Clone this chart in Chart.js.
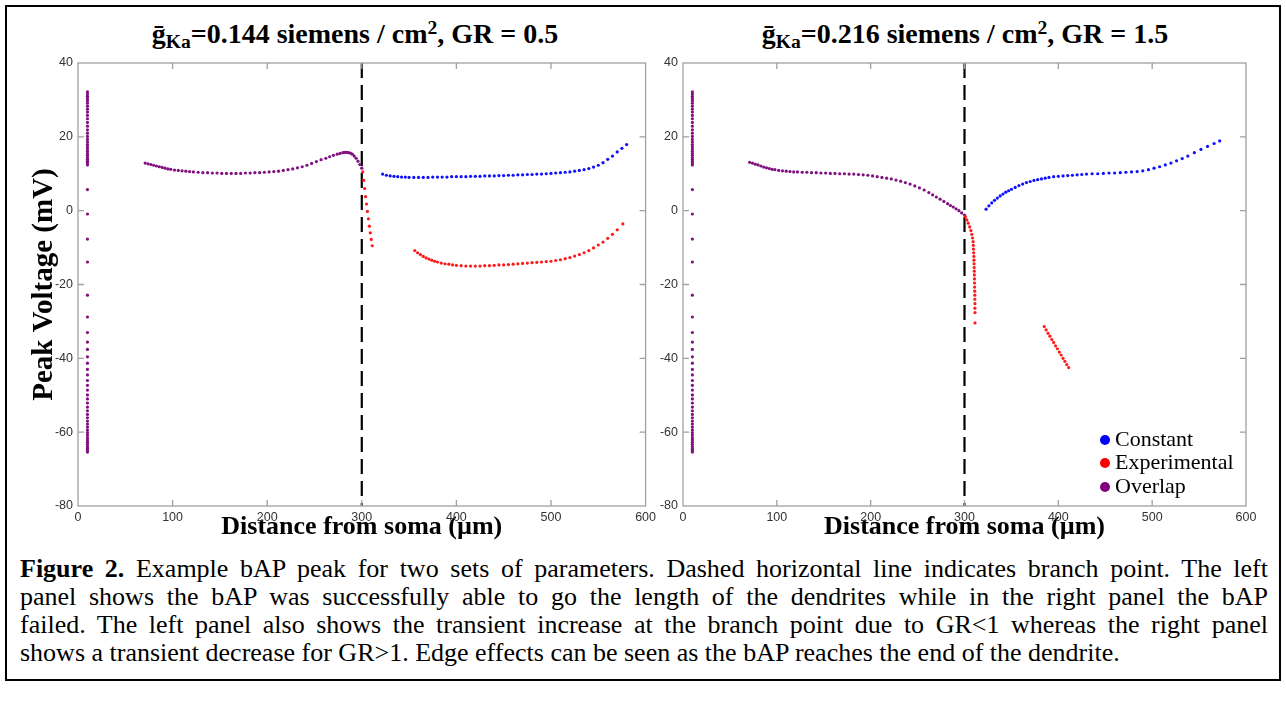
<!DOCTYPE html>
<html><head><meta charset="utf-8">
<script src="https://cdn.jsdelivr.net/npm/chart.js@4.4.1/dist/chart.umd.min.js"></script>
<style>
html,body{margin:0;padding:0;background:#fff;width:1286px;height:707px;overflow:hidden;}
#frame{position:absolute;left:5px;top:5px;width:1272px;height:672px;border:2px solid #000;box-sizing:content-box;}
.ttl{position:absolute;top:18px;font-weight:bold;font-size:28px;line-height:32px;font-family:"Liberation Serif","DejaVu Serif",serif;white-space:nowrap;transform:translateX(-50%);color:#000;}
.ttl sub{font-size:0.7em;vertical-align:-0.25em;line-height:0;}
.ttl sup{font-size:0.7em;vertical-align:0.45em;line-height:0;}
canvas{position:absolute;}
.leg{position:absolute;left:1100px;font-family:"Liberation Serif",serif;font-size:22px;line-height:24px;white-space:nowrap;color:#000;}
.leg i{display:inline-block;width:10px;height:10px;border-radius:50%;margin-right:5px;vertical-align:1px;}
.cap{position:absolute;left:20px;width:1248px;font-family:"Liberation Serif",serif;font-size:26px;line-height:28px;white-space:nowrap;color:#000;}
.cap.j{text-align:justify;text-align-last:justify;white-space:normal;}
</style>
</head><body>
<div id="frame"></div>
<div class="ttl" style="left:355px">ḡ<sub>Ka</sub>=0.144 siemens / cm<sup>2</sup>, GR = 0.5</div>
<div class="ttl" style="left:965px">ḡ<sub>Ka</sub>=0.216 siemens / cm<sup>2</sup>, GR = 1.5</div>
<canvas id="cL" width="660" height="500" style="left:0;top:50px;width:660px;height:500px"></canvas>
<canvas id="cR" width="626" height="500" style="left:660px;top:50px;width:626px;height:500px"></canvas>
<div class="leg" style="top:427px"><i style="background:#0000ff"></i>Constant</div>
<div class="leg" style="top:450px"><i style="background:#ff0000"></i>Experimental</div>
<div class="leg" style="top:474px"><i style="background:#800080"></i>Overlap</div>
<div class="cap j" style="top:555px"><b>Figure 2.</b> Example bAP peak for two sets of parameters. Dashed horizontal line indicates branch point. The left</div>
<div class="cap j" style="top:583px">panel shows the bAP was successfully able to go the length of the dendrites while in the right panel the bAP</div>
<div class="cap j" style="top:611px">failed. The left panel also shows the transient increase at the branch point due to GR&lt;1 whereas the right panel</div>
<div class="cap" style="top:639px">shows a transient decrease for GR&gt;1. Edge effects can be seen as the bAP reaches the end of the dendrite.</div>
<script>
// ---- axis tick labels ----
const xTickLabels = [0, 100, 200, 300, 400, 500, 600];
const yTickLabels = [-80, -60, -40, -20, 0, 20, 40];
const branchPoint = 300;
const somaDistance = 10;

// ---- soma column (both panels) ----
const somaV = [32.2, 31.6, 31.0, 30.4, 29.8, 29.1, 28.3, 27.5, 26.7, 25.8, 24.9, 23.9, 22.9, 21.9, 21.0, 20.1, 19.3, 18.6, 17.9, 17.3, 16.7, 16.1, 15.5, 15.0, 14.4, 13.9, 13.4, 12.9, 12.4,
  5.7, -0.9, -7.7, -13.9, -22.9, -28.8, -33.0, -35.6, -37.6, -39.6, -41.3, -43.0, -44.5, -46.0, -47.3, -48.6, -49.9, -51.0, -52.1, -53.2, -54.2, -55.2, -56.1, -57.0, -57.8, -58.6, -59.4, -60.1, -60.8, -61.5, -62.1, -62.7, -63.3, -63.9, -64.4, -64.9, -65.4];

// ---- LEFT panel (gKa=0.144, GR=0.5) ----
const L_overlapX = [71,74,77,80,83,86,89,92,95,98,102,106,110,114,118,122,127,132,137,142,147,152,157,162,167,172,177,182,187,192,197,202,207,212,217,222,227,232,237,242,247,252,257,262,266,270,274,277,280,282,284,286,288,290,292,294,296,298,300];
const L_overlapY = [12.9,12.7,12.5,12.3,12.1,11.9,11.7,11.5,11.3,11.2,11.0,10.9,10.8,10.7,10.6,10.5,10.4,10.3,10.3,10.2,10.2,10.1,10.1,10.1,10.1,10.1,10.2,10.2,10.3,10.3,10.4,10.5,10.6,10.7,10.9,11.1,11.3,11.6,11.9,12.3,12.8,13.3,13.8,14.2,14.6,15.0,15.3,15.5,15.7,15.8,15.8,15.7,15.6,15.3,14.8,14.2,13.4,12.5,11.5];
const L_constX = [322,326,330,334,338,342,346,350,355,360,365,370,375,380,385,390,395,400,405,410,415,420,425,430,435,440,445,450,455,460,465,470,475,480,485,490,495,500,505,510,515,520,525,530,535,540,545,550,555,560,565,570,575,580];
const L_constY = [9.9,9.6,9.4,9.3,9.2,9.1,9.1,9.0,9.0,9.0,9.0,9.0,9.1,9.1,9.1,9.1,9.2,9.2,9.2,9.2,9.3,9.3,9.3,9.4,9.4,9.4,9.5,9.5,9.6,9.6,9.7,9.7,9.8,9.8,9.9,9.9,10.0,10.1,10.2,10.3,10.4,10.5,10.7,10.9,11.1,11.4,11.8,12.3,13.0,13.9,14.8,15.9,16.9,17.9];
const L_expX = [301,302,303,304,305,306,307,308,309,310,311,
  356,359,362,365,368,371,374,377,380,384,388,392,396,400,405,410,415,420,425,430,435,440,445,450,455,460,465,470,475,480,485,490,495,500,505,510,515,520,525,530,535,540,545,550,555,560,565,570,576];
const L_expY = [10.5,8.2,6.0,3.8,1.8,-0.2,-2.2,-4.2,-6.0,-7.8,-9.5,
  -10.8,-11.4,-11.9,-12.4,-12.8,-13.1,-13.4,-13.7,-13.9,-14.2,-14.4,-14.5,-14.7,-14.8,-14.9,-15.0,-15.0,-15.0,-15.0,-14.9,-14.9,-14.8,-14.7,-14.7,-14.6,-14.5,-14.4,-14.3,-14.2,-14.1,-14.0,-13.9,-13.8,-13.7,-13.5,-13.3,-13.0,-12.7,-12.3,-11.9,-11.4,-10.8,-10.1,-9.3,-8.5,-7.5,-6.4,-5.2,-3.6];

// ---- RIGHT panel (gKa=0.216, GR=1.5) ----
const R_overlapX = [71,74,77,80,83,86,89,92,95,98,102,106,110,114,118,122,127,132,137,142,147,152,157,162,167,172,177,182,187,192,197,202,207,212,217,222,227,232,237,242,247,252,257,262,266,270,274,278,282,285,288,291,294,297,300];
const R_overlapY = [13.1,12.9,12.6,12.4,12.1,11.8,11.6,11.4,11.2,11.1,10.9,10.8,10.7,10.6,10.5,10.5,10.4,10.4,10.3,10.3,10.2,10.2,10.1,10.1,10.0,10.0,9.9,9.9,9.8,9.7,9.6,9.4,9.2,9.0,8.8,8.6,8.3,8.0,7.6,7.2,6.7,6.2,5.6,4.9,4.3,3.7,3.1,2.5,1.9,1.4,1.0,0.5,0.0,-0.6,-1.2];
const R_constX = [323,326,329,332,335,338,341,344,347,350,354,358,362,366,370,374,378,382,386,390,395,400,405,410,415,420,425,430,436,442,448,454,460,466,472,478,484,490,496,502,508,514,520,526,532,538,545,552,559,566,572];
const R_constY = [0.4,1.3,2.1,2.8,3.4,4.0,4.5,5.0,5.4,5.8,6.3,6.8,7.2,7.6,7.9,8.2,8.4,8.6,8.8,9.0,9.2,9.3,9.4,9.5,9.6,9.7,9.8,9.9,10.0,10.0,10.1,10.2,10.2,10.3,10.4,10.5,10.6,10.8,11.1,11.5,11.9,12.4,12.9,13.5,14.1,14.8,15.7,16.6,17.4,18.2,18.9];
const R_expX = [301,302.5,304,305.5,306.8,307.8,308.6,309.1,309.4,309.6,309.8,310.0,310.1,310.2,310.3,310.4,310.5,310.6,310.7,310.8,310.9,311.0,311.0,311.1,311.1,311.2,311.2,
  385,387,389,391,393,395,397,399,401,403,405,407,409,411];
const R_expY = [-1.6,-2.5,-3.4,-4.4,-5.4,-6.4,-7.4,-8.4,-9.4,-10.4,-11.4,-12.4,-13.4,-14.4,-15.4,-16.4,-17.4,-18.5,-19.6,-20.7,-21.8,-22.9,-24.0,-25.2,-26.4,-27.6,-30.4,
  -31.4,-32.3,-33.2,-34.0,-34.9,-35.7,-36.6,-37.4,-38.3,-39.1,-40.0,-40.8,-41.7,-42.5];

const COLORS = {constant:'#1010ff', experimental:'#ff1a1a', overlap:'#80107f'};

function pts(xs, ys){ return xs.map((x,i)=>({x:x, y:ys[i]})); }

const boxPlugin = {
  id:'matlabBox',
  afterDraw(chart){
    const {ctx, chartArea:a, scales:{x, y}} = chart;
    ctx.save();
    ctx.strokeStyle = '#a0a0a0';
    ctx.lineWidth = 1.3;
    ctx.strokeRect(a.left, a.top, a.right - a.left, a.bottom - a.top);
    ctx.beginPath();
    x.ticks.forEach(t => {
      if (t.value === x.min || t.value === x.max) return;
      const px = x.getPixelForValue(t.value);
      ctx.moveTo(px, a.bottom); ctx.lineTo(px, a.bottom - 6);
      ctx.moveTo(px, a.top); ctx.lineTo(px, a.top + 6);
    });
    y.ticks.forEach(t => {
      if (t.value === y.min || t.value === y.max) return;
      const py = y.getPixelForValue(t.value);
      ctx.moveTo(a.left, py); ctx.lineTo(a.left + 6, py);
      ctx.moveTo(a.right, py); ctx.lineTo(a.right - 6, py);
    });
    ctx.stroke();
    ctx.restore();
  }
};

function makePanel(id, overlap, constant, experimental, cfg){
  const ptStyle = (c) => ({backgroundColor:c, borderColor:c, pointRadius:1.6, pointBorderWidth:0, pointHoverRadius:1.6, showLine:false});
  return new Chart(document.getElementById(id), {
    type:'scatter',
    data:{datasets:[
      Object.assign({label:'Constant', data: pts(constant[0], constant[1])}, ptStyle(COLORS.constant)),
      Object.assign({label:'Experimental', data: pts(experimental[0], experimental[1])}, ptStyle(COLORS.experimental)),
      Object.assign({label:'Overlap', data: somaV.map(v => ({x: somaDistance, y: v})).concat(pts(overlap[0], overlap[1]))}, ptStyle(COLORS.overlap)),
      {type:'line', label:'branch', data:[{x:branchPoint, y:yTickLabels[yTickLabels.length-1]},{x:branchPoint, y:yTickLabels[0]}],
        borderColor:'#000', borderWidth:2.2, borderDash:[15,7], pointRadius:0, fill:false}
    ]},
    options:{
      responsive:false, animation:false, devicePixelRatio:1,
      layout:{padding:{left:0, right:cfg.padRight, top:13, bottom:0}},
      plugins:{legend:{display:false}, tooltip:{enabled:false}, title:{display:false}},
      scales:{
        x:{type:'linear', min:xTickLabels[0], max:xTickLabels[xTickLabels.length-1],
          grid:{display:false, drawTicks:false, tickLength:0}, border:{display:false},
          ticks:{stepSize:100, padding:4, color:'#333', font:{family:'"Liberation Sans", Arial, sans-serif', size:12.5}, maxRotation:0},
          title:{display:true, text:'Distance from soma (µm)', color:'#000', font:{family:'"Liberation Serif", serif', size:26, weight:'bold'}, padding:{top:0, bottom:7}},
          afterFit(s){ s.height = 44; }
        },
        y:{type:'linear', min:yTickLabels[0], max:yTickLabels[yTickLabels.length-1],
          grid:{display:false, drawTicks:false, tickLength:0}, border:{display:false},
          ticks:{stepSize:20, padding:5, color:'#333', font:{family:'"Liberation Sans", Arial, sans-serif', size:12.5}},
          title:{display:cfg.yTitle, text:'Peak Voltage (mV)', color:'#000', font:{family:'"Liberation Serif", serif', size:29, weight:'bold'}, padding:{top:27, bottom:0}},
          afterFit(s){ s.width = cfg.yWidth; }
        }
      }
    },
    plugins:[boxPlugin]
  });
}

makePanel('cL', [L_overlapX, L_overlapY], [L_constX, L_constY], [L_expX, L_expY], {padRight:14, yWidth:78, yTitle:true});
makePanel('cR', [R_overlapX, R_overlapY], [R_constX, R_constY], [R_expX, R_expY], {padRight:40, yWidth:23, yTitle:false});
</script>
</body></html>
